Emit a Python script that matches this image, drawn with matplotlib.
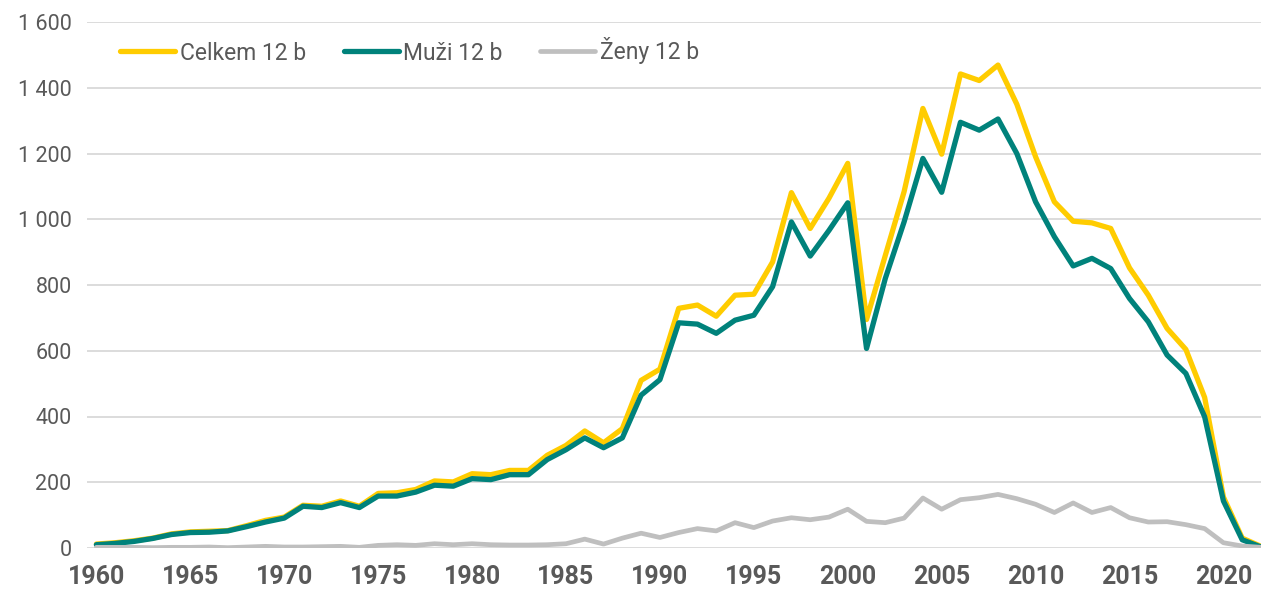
import matplotlib.pyplot as plt
import numpy as np
from matplotlib.ticker import FuncFormatter, MultipleLocator

years = np.arange(1960, 2023)

# Celkem 12 b
celkem = [12, 16, 22, 30, 43, 49, 51, 53, 68, 84, 94, 130, 127, 143, 127, 166, 168, 178,
          204, 201, 226, 223, 236, 236, 282, 312, 356, 320, 363, 510, 544, 729, 739, 705,
          769, 772, 870, 1081, 972, 1064, 1170, 695, 890, 1084, 1337, 1198, 1442, 1422,
          1469, 1350, 1190, 1053, 994, 989, 972, 852, 769, 668, 604, 458, 155, 30, 5]
# Muzi 12 b
muzi = [10, 14, 20, 29, 41, 47, 48, 52, 65, 79, 91, 127, 123, 138, 123, 158, 158, 170,
        191, 188, 211, 208, 223, 223, 269, 299, 335, 305, 335, 465, 512, 685, 681, 653,
        693, 708, 795, 992, 888, 966, 1050, 607, 820, 992, 1185, 1082, 1295, 1271,
        1305, 1200, 1053, 947, 858, 881, 850, 759, 688, 587, 531, 399, 143, 25, 3]
# Zeny 12 b
zeny = [2, 2, 2, 1, 2, 2, 3, 1, 3, 5, 3, 3, 4, 5, 2, 8, 10, 8,
        13, 10, 13, 10, 9, 9, 10, 13, 27, 12, 30, 45, 32, 47, 59, 52,
        77, 62, 82, 92, 86, 94, 118, 81, 77, 91, 152, 118, 147, 153,
        163, 150, 133, 108, 137, 108, 123, 92, 79, 80, 71, 59, 16, 6, 2]

labels = ["Celkem 12 b", "Muži 12 b", "Ženy 12 b"]
colors = ["#FFCC00", "#00827B", "#BFBFBF"]

plt.rcParams['font.family'] = ['Roboto', 'DejaVu Sans']

fig = plt.figure(figsize=(12.61, 5.93), dpi=100)
ax = fig.add_axes([87 / 1261, 45 / 593, 1174 / 1261, 526 / 593])

for vals, lab, col, lw in zip([celkem, muzi, zeny], labels, colors, [3.8, 3.8, 3.4]):
    ax.plot(years, vals, color=col, linewidth=lw, label=lab,
            solid_joinstyle='round', solid_capstyle='round')

ax.set_xlim(1959.5, 2022)
ax.set_ylim(0, 1600)
ax.yaxis.set_major_locator(MultipleLocator(200))
ax.xaxis.set_major_locator(MultipleLocator(5))
ax.yaxis.set_major_formatter(FuncFormatter(lambda v, p: f"{int(v):,}".replace(",", " ")))

ax.grid(axis='y', color='#D9D9D9', linewidth=1.3)
ax.set_axisbelow(True)
for s in ax.spines.values():
    s.set_visible(False)
ax.tick_params(length=0)
ax.tick_params(axis='y', labelsize=15.5, labelcolor='#595959', pad=11)
ax.tick_params(axis='x', labelsize=18, labelcolor='#595959', pad=12)
for t in ax.get_xticklabels():
    t.set_fontweight('bold')

leg = ax.legend(loc='center left', bbox_to_anchor=((120 - 87) / 1174, (548 - 51) / 526),
                ncol=3, frameon=False, fontsize=16.5, handlelength=2.4,
                handletextpad=0.2, columnspacing=1.65, borderpad=0, borderaxespad=0)
for t in leg.get_texts():
    t.set_color('#595959')

fig.savefig("out.png", dpi=100)
